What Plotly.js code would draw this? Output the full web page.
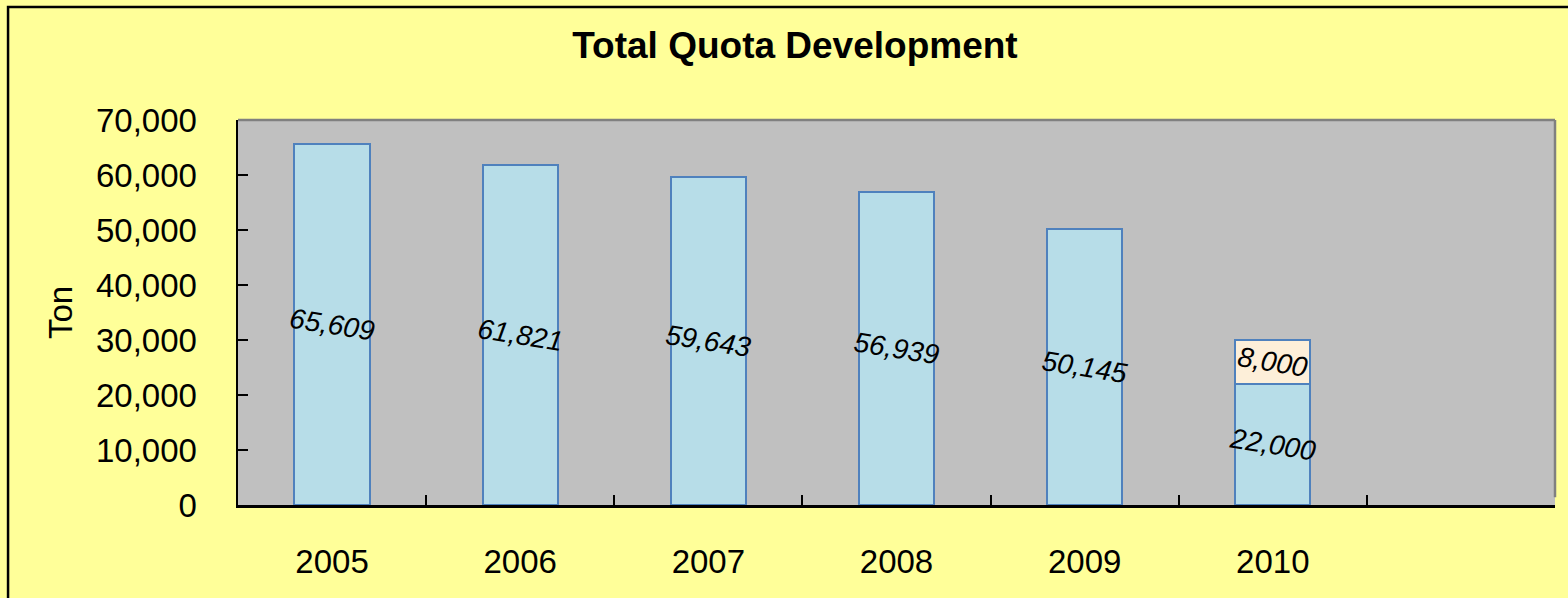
<!DOCTYPE html>
<html>
<head>
<meta charset="utf-8">
<script src="https://cdn.plot.ly/plotly-3.0.1.min.js"></script>
<style>
  html, body { margin: 0; padding: 0; background: #FFFF99; }
  #chart { width: 1568px; height: 598px; }
</style>
</head>
<body>
<div id="chart"></div>
<script>
const years = ['2005', '2006', '2007', '2008', '2009', '2010', ' '];
const quotaBase = [65609, 61821, 59643, 56939, 50145, 22000, null];
const quotaExtra = [null, null, null, null, null, 8000, null];

const labelFont = {
    family: 'Liberation Sans, Arial, sans-serif',
    size: 28,
    color: '#000000',
    style: 'italic',
};

let data = [
    {
        type: 'bar',
        x: years,
        y: quotaBase,
        width: 0.4,
        texttemplate: '%{y:,}',
        textposition: 'inside',
        insidetextanchor: 'middle',
        constraintext: 'none',
        textangle: 9,
        textfont: labelFont,
        marker: {
            color: '#B7DDE8',
            line: { color: '#4F81BD', width: 2 },
        },
        hoverinfo: 'x+y',
    },
    {
        type: 'bar',
        x: years,
        y: quotaExtra,
        width: 0.4,
        texttemplate: '%{y:,}',
        textposition: 'inside',
        insidetextanchor: 'middle',
        constraintext: 'none',
        textangle: 9,
        textfont: labelFont,
        marker: {
            color: '#FDEFD9',
            line: { color: '#4F81BD', width: 2 },
        },
        hoverinfo: 'x+y',
    },
];

let layout = {
    width: 1568,
    height: 598,
    barmode: 'stack',
    showlegend: false,
    paper_bgcolor: '#FFFF99',
    plot_bgcolor: '#C0C0C0',
    margin: { l: 238, r: 13, t: 120, b: 93 },
    font: { family: 'Liberation Sans, Arial, sans-serif', color: '#000000' },

    title: {
        text: '<b>Total Quota Development</b>',
        font: { size: 37, family: 'Liberation Sans, Arial, sans-serif', color: '#000000' },
        xref: 'container',
        yref: 'container',
        x: 0.507,
        y: 0.925,
        xanchor: 'center',
        yanchor: 'middle',
    },

    xaxis: {
        type: 'category',
        range: [-0.5, 6.5],
        tickson: 'boundaries',
        ticks: 'inside',
        ticklen: 10,
        tickwidth: 2,
        tickcolor: '#000000',
        showline: true,
        linecolor: '#000000',
        linewidth: 2.5,
        showgrid: false,
        tickfont: { size: 33 },
        ticklabelstandoff: 26,
        fixedrange: true,
    },

    yaxis: {
        range: [0, 70000],
        dtick: 10000,
        tickformat: ',',
        ticks: 'inside',
        ticklen: 10,
        tickwidth: 2,
        tickcolor: '#000000',
        showline: true,
        linecolor: '#000000',
        linewidth: 2.5,
        showgrid: false,
        zeroline: false,
        tickfont: { size: 33 },
        ticklabelstandoff: 32,
        title: {
            text: 'Ton',
            font: { size: 33 },
            standoff: 14,
        },
        fixedrange: true,
    },

    shapes: [
        {
            type: 'line', xref: 'paper', yref: 'paper',
            x0: 0, x1: 1, y0: 1, y1: 1,
            line: { color: '#808080', width: 2.5 },
        },
        {
            type: 'line', xref: 'paper', yref: 'paper',
            x0: 1, x1: 1, y0: 0.02, y1: 1,
            line: { color: '#808080', width: 2.5 },
        },
        {
            type: 'rect', xref: 'paper', yref: 'paper',
            x0: -0.1746, x1: 1.06, y0: -0.3, y1: 1.2935,
            line: { color: '#000000', width: 2.5 },
            fillcolor: 'rgba(0,0,0,0)',
        },
    ],
};

let config = {
    staticPlot: true,
};

Plotly.newPlot(document.getElementById('chart'), data, layout, config);
</script>
</body>
</html>
